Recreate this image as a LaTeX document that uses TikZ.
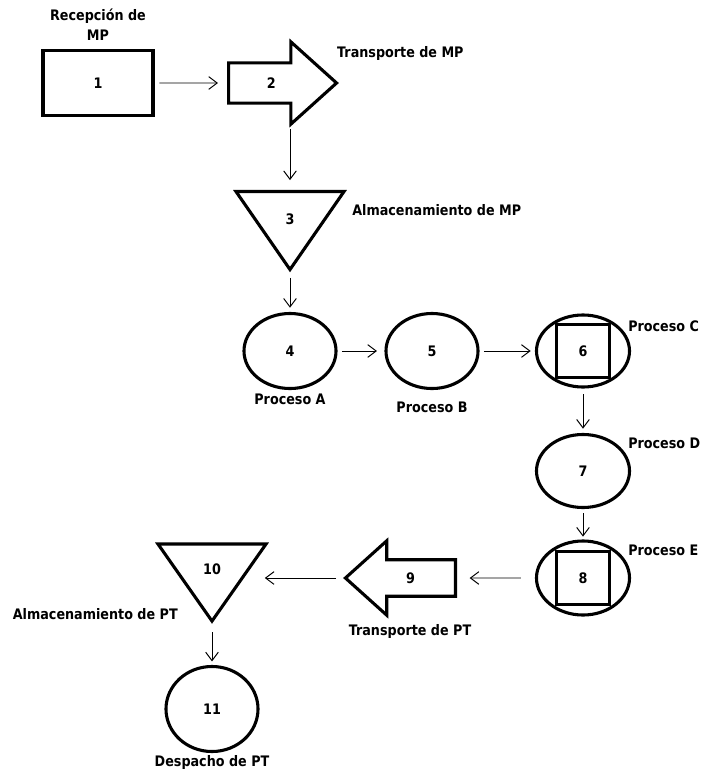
\documentclass[tikz,border=0pt]{standalone}
\usepackage{fontspec}
\setmainfont{DejaVu Sans}[FakeStretch=0.88]
\usetikzlibrary{shapes.geometric}
\usetikzlibrary{shapes.arrows}
\usetikzlibrary{arrows.meta}
\usetikzlibrary{positioning}
\usetikzlibrary{calc}

\begin{document}
\begin{tikzpicture}[x=0.025cm, y=-0.025cm,
    font=\fontsize{10.3}{14}\selectfont\bfseries,
    every node/.style={inner sep=0pt},
    shp/.style={draw, line width=2.2pt},
    oper/.style={shp, ellipse, minimum width=2.3cm, minimum height=1.875cm},
    insp/.style={oper, path picture={\draw[line width=2.2pt]
        ($(path picture bounding box.center)+(-26.5,-26.5)$) rectangle
        ($(path picture bounding box.center)+(26.5,26.5)$);}},
    store/.style={shp, isosceles triangle, isosceles triangle stretches,
        shape border rotate=270, minimum width=2.7cm, minimum height=1.95cm},
    move/.style={shp, single arrow, single arrow tip angle=84},
    flow/.style={-{Straight Barb[length=6pt,width=9pt]}, line width=0.7pt,
        shorten <=3pt, shorten >=3pt}]
  \useasboundingbox (0,0) rectangle (702,770);

  % materia prima
  \node[shp, minimum width=2.75cm, minimum height=1.625cm] (n1) at (98,83) {1};
  \node[align=center, above=0.2cm of n1] (l1) {Recepción de\\MP};
  \node[move, anchor=tail, minimum height=2.7cm, inner ysep=0.33cm,
        single arrow head extend=0.525cm] (n2) at (227,83) {2};
  \node[above right=0.55cm and -0.05cm of n2.tip] (l2) {Transporte de MP};
  \node[store] (n3) at (290,219) {3};
  \node[anchor=west] (l3) at (352,210) {Almacenamiento de MP};

  % procesos
  \node[oper] (n4) at (290,351) {4};
  \node[below=0.1cm of n4] (l4) {Proceso A};
  \node[oper] (n5) at (432,351) {5};
  \node[below=0.3cm of n5] (l5) {Proceso B};
  \node[insp, minimum width=2.325cm, minimum height=1.8cm] (n6) at (583,351) {6};
  \node[anchor=west] (l6) at (628,326) {Proceso C};
  \node[oper, minimum width=2.325cm, minimum height=1.825cm] (n7) at (583,471) {7};
  \node[anchor=west] (l7) at (628,443) {Proceso D};
  \node[insp, minimum width=2.325cm, minimum height=1.85cm] (n8) at (583,578) {8};
  \node[anchor=west] (l8) at (628,550) {Proceso E};

  % producto terminado
  \node[move, anchor=tail, shape border rotate=180, minimum height=2.75cm,
        inner ysep=0.28cm, single arrow head extend=0.475cm] (n9) at (457,578) {9};
  \node (l9) at (410,631) {Transporte de PT};
  \node[store, minimum height=1.925cm] (n10) at (212,569) {10};
  \node[anchor=east] (l10) at (178,614) {Almacenamiento de PT};
  \node[oper, minimum height=2.125cm] (n11) at (212,709) {11};
  \node[below=0.05cm of n11] (l11) {Despacho de PT};

  \draw[flow, shorten <=3.5pt, shorten >=6.4pt] (n1) -- (n2);
  \draw[flow, shorten >=7pt] ($(n2.tip -| n3.north)+(0,42)$) -- (n3.north);
  \draw[flow] (n3.apex) -- (n4);
  \draw[flow, shorten >=5.3pt] (n4) -- (n5);
  \draw[flow] (n5) -- (n6);
  \draw[flow, shorten <=4.2pt] (n6) -- (n7);
  \draw[flow, shorten >=2pt] (n7) -- (n8);
  \draw[flow, shorten <=10pt, shorten >=9pt] (n8) -- (n9);
  \draw[flow, shorten <=5pt, shorten >=10pt] (n9.tip) -- (n9.tip -| n10.east);
  \draw[flow, shorten <=5pt, shorten >=2.5pt] (n10.apex) -- (n11);
\end{tikzpicture}
\end{document}
